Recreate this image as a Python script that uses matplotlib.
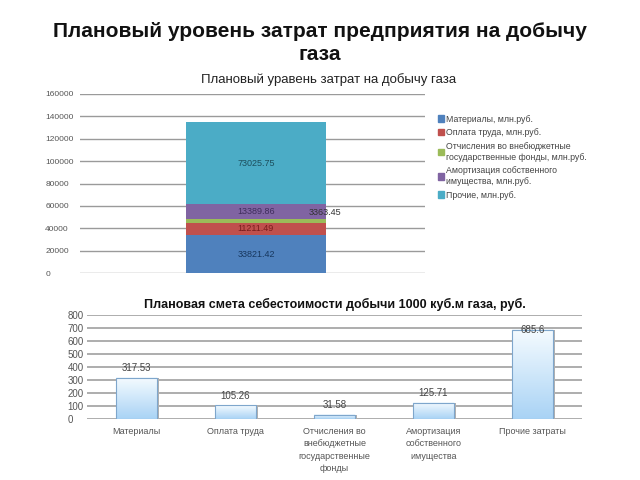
import matplotlib
matplotlib.use("Agg")
import matplotlib.pyplot as plt
import numpy as np
from matplotlib.colors import LinearSegmentedColormap

plt.rcParams['font.family'] = ['Liberation Sans', 'DejaVu Sans']

# ---- data: top stacked chart (mln rub) ----
top_series = ["Материалы, млн.руб.", "Оплата труда, млн.руб.",
              "Отчисления во внебюджетные\nгосударственные фонды, млн.руб.",
              "Амортизация собственного\nимущества, млн.руб.", "Прочие, млн.руб."]
top_values = [33821.42, 11211.49, 3363.45, 13389.86, 73025.75]
top_labels = ["33821.42", "11211.49", "3363.45", "13389.86", "73025.75"]
top_colors = ["#4F81BD", "#C0504D", "#9BBB59", "#8064A2", "#4BACC6"]
top_text_colors = ["#17375E", "#7A1C1C", "#333333", "#3F2D5C", "#1C4E5C"]
top_yticks = [0, 20000, 40000, 60000, 80000, 100000, 120000, 140000, 160000]

# ---- data: bottom chart (rub per 1000 m3) ----
bot_categories = ["Материалы", "Оплата труда",
                  "Отчисления во\nвнебюджетные\nгосударственные\nфонды",
                  "Амортизация\nсобственного\nимущества", "Прочие затраты"]
bot_values = [317.53, 105.26, 31.58, 125.71, 685.6]
bot_labels = ["317.53", "105.26", "31.58", "125.71", "685.6"]
bot_yticks = [0, 100, 200, 300, 400, 500, 600, 700, 800]

fig = plt.figure(figsize=(6.4, 4.8), dpi=100)
fig.text(0.5, 1 - 43/480, "Плановый уровень затрат предприятия на добычу\nгаза",
         ha='center', va='center', fontsize=15, fontweight='bold',
         color='#111111', linespacing=1.3)

# ---------- top chart ----------
ax1 = fig.add_axes([80/640, 1 - 273/480, 345/640, (273-94)/480])
bottom = 0
for v, c in zip(top_values, top_colors):
    ax1.bar([0], [v], width=0.405, bottom=bottom, color=c, zorder=3)
    bottom += v
cum = np.cumsum([0] + top_values)
for i, (lab, tc) in enumerate(zip(top_labels, top_text_colors)):
    mid = (cum[i] + cum[i+1]) / 2
    if i == 2:
        ax1.text(0.2, cum[i+1] + 5500, lab, ha='center', va='center',
                 fontsize=6.5, color='#333333', zorder=4)
    else:
        ax1.text(0, mid, lab, ha='center', va='center', fontsize=6.5,
                 color=tc, zorder=4)
ax1.set_xlim(-0.51, 0.49)
ax1.set_ylim(0, 160000)
ax1.set_yticks(top_yticks)
ax1.set_yticklabels([str(t) for t in top_yticks], fontsize=6, color='#555555', ha='left')
ax1.tick_params(axis='y', length=0, pad=25)
ax1.set_xticks([])
ax1.grid(axis='y', color='#9a9a9a', linewidth=1, zorder=0)
for s in ax1.spines.values():
    s.set_visible(False)
ax1.set_title("Плановый уравень затрат на добычу газа", fontsize=9.5,
              color='#222222', pad=8, x=0.72)

handles = [plt.Rectangle((0, 0), 1, 1, color=c) for c in top_colors]
fig.legend(handles, top_series, loc='upper left',
           bbox_to_anchor=(434/640, 1 - 111/480), frameon=False,
           fontsize=6.3, handlelength=0.7, handleheight=0.7,
           handletextpad=0.3, labelspacing=0.55, labelcolor='#444444',
           borderaxespad=0)

# ---------- bottom chart ----------
ax2 = fig.add_axes([87/640, 1 - 419/480, (582-87)/640, (419-315)/480])
x = np.arange(len(bot_values))
bars = ax2.bar(x, bot_values, width=0.41, color='none',
               edgecolor='#7ea6cc', linewidth=0.8, zorder=4)
cmap = LinearSegmentedColormap.from_list('g', ['#a9d3f5', '#f5fbff'])
grad = np.linspace(0, 1, 100).reshape(-1, 1)
for b in bars:
    x0, w, h = b.get_x(), b.get_width(), b.get_height()
    # shadow
    ax2.bar(x0 + w/2 + 0.02, h, width=w, bottom=-4, color='#b0b0b0', zorder=2,
            linewidth=0)
    ax2.imshow(grad, extent=[x0, x0 + w, 0, h], origin='lower', aspect='auto',
               cmap=cmap, zorder=3)
for xi, v, lab in zip(x, bot_values, bot_labels):
    if v > 600:
        ax2.text(xi, v, lab, ha='center', va='center', fontsize=7,
                 color='#444444', zorder=5)
    else:
        ax2.text(xi, v + 75, lab, ha='center', va='center', fontsize=7,
                 color='#444444', zorder=5)
ax2.set_xlim(-0.5, 4.5)
ax2.set_ylim(0, 800)
ax2.set_yticks(bot_yticks)
ax2.set_yticklabels([str(t) for t in bot_yticks], fontsize=7, color='#555555', ha='left')
ax2.tick_params(axis='y', length=0, pad=14)
ax2.set_xticks(x)
ax2.set_xticklabels(bot_categories, fontsize=6.5, color='#555555', linespacing=1.45)
ax2.tick_params(axis='x', length=0, pad=6)
ax2.grid(axis='y', color='#a0a0a0', linewidth=1.2, zorder=0)
for s in ax2.spines.values():
    s.set_visible(False)
ax2.set_title("Плановая смета себестоимости добычи 1000 куб.м газа, руб.",
              fontsize=9, fontweight='bold', color='#111111', pad=5)

fig.savefig("out.png", dpi=100)
